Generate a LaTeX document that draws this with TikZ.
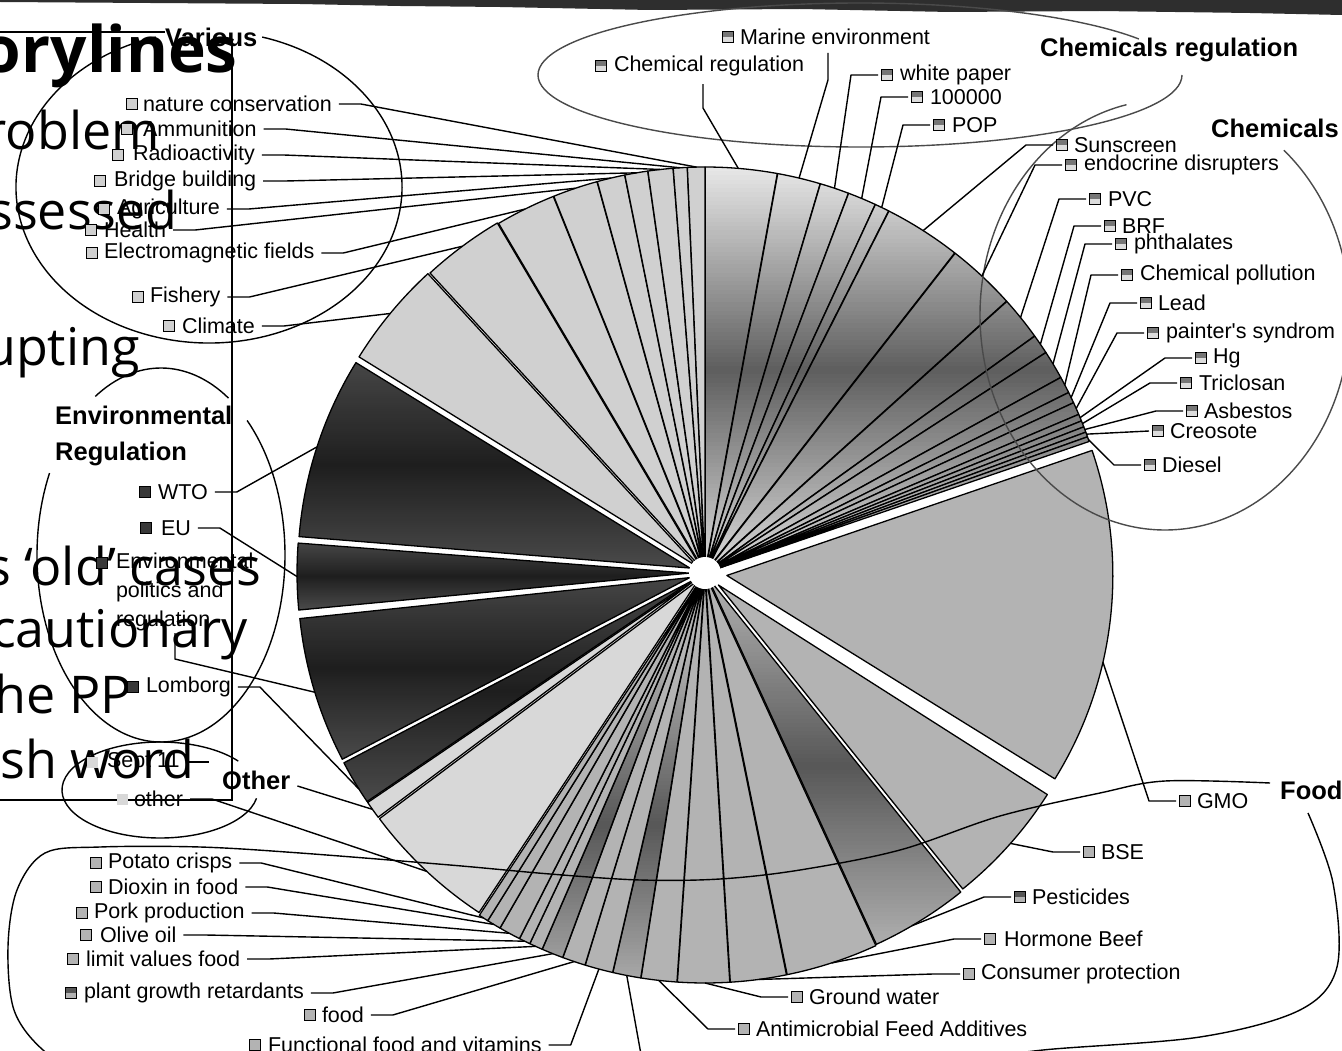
\documentclass[tikz,border=0pt]{standalone}
\usepackage{fontspec}
\setmainfont{Liberation Sans}
\newfontfamily\slidefont{Open Sans}
\usetikzlibrary{calc}
\definecolor{varcol}{HTML}{D0D0D0}
\definecolor{foodcol}{HTML}{B3B3B3}
\definecolor{othcol}{HTML}{D8D8D8}
\definecolor{chemtop}{HTML}{E8E8E8}
\definecolor{chemmid}{HTML}{5E5E5E}
\definecolor{chembot}{HTML}{DCDCDC}
\definecolor{envtop}{HTML}{464646}
\definecolor{envmid}{HTML}{1E1E1E}
\definecolor{envbot}{HTML}{4A4A4A}
\definecolor{fdmid}{HTML}{575757}
\definecolor{ellgray}{HTML}{4A4A4A}
\definecolor{scan}{HTML}{2E2E2E}
\newcommand\pslice[7]{%
  \pgfmathsetmacro\slA{#1-90}%
  \pgfmathsetmacro\slB{#2-90}%
  \pgfmathsetmacro\slM{(#1+#2)/2-90}%
  \pgfmathsetmacro\slL{#7-90}%
  \coordinate (c-#6) at ($(O)+(\slM:#4)$);
  \path[#5] (c-#6) -- ++(\slA:#3) arc[start angle=\slA,end angle=\slB,radius=#3] -- cycle;
  \coordinate (r-#6) at ($(c-#6)+(\slL:#3)$);
}
% gradient slice: colours and y-range taken from \gtop \gmid \gbot \gya \gyb
\newcommand\gslice[6]{%
  \pgfmathsetmacro\slA{#1-90}%
  \pgfmathsetmacro\slB{#2-90}%
  \pgfmathsetmacro\slM{(#1+#2)/2-90}%
  \pgfmathsetmacro\slL{#6-90}%
  \coordinate (c-#5) at ($(O)+(\slM:#4)$);
  \begin{scope}
    \clip (c-#5) -- ++(\slA:#3) arc[start angle=\slA,end angle=\slB,radius=#3] -- cycle;
    \fill[\gtop] (270,0) rectangle (1140,\gya+1);
    \fill[\gbot] (270,\gyb-1) rectangle (1140,1060);
    \pgfmathsetmacro\gH{(\gyb-\gya)/96}%
    \foreach \gi in {0,...,95}{%
      \pgfmathsetmacro\gY{\gya+\gH*\gi}%
      \pgfmathsetmacro\gP{\gi<48 ? 100*(\gi+0.5)/48 : 100*(95.5-\gi)/48}%
      \ifnum\gi<48 \colorlet{stripc}{\gmid!\gP!\gtop}\else\colorlet{stripc}{\gmid!\gP!\gbot}\fi
      \fill[stripc] (270,\gY) rectangle (1140,\gY+\gH+0.8);
    }
  \end{scope}
  \draw[sl] (c-#5) -- ++(\slA:#3) arc[start angle=\slA,end angle=\slB,radius=#3] -- cycle;
  \coordinate (r-#5) at ($(c-#5)+(\slL:#3)$);
}
\begin{document}
\begin{tikzpicture}[x=1pt,y=-1pt,
  sl/.style={draw=black,line width=1.3pt,line join=round},
  slF/.style={sl,fill=foodcol},
  slO/.style={sl,fill=othcol},
  slV/.style={sl,fill=varcol},
  lbl/.style={font=\fontsize{21.5}{24}\selectfont,inner sep=0pt,outer sep=0pt,anchor=west},
  grp/.style={font=\fontsize{25.5}{36}\selectfont\bfseries,inner sep=0pt,anchor=west,align=left},
  bx/.style={draw=black,line width=1pt,minimum size=11pt,inner sep=0pt},
  boxV/.style={bx,fill=varcol},
  boxF/.style={bx,fill=foodcol},
  boxFd/.style={bx,fill=foodcol,path picture={\fill[fdmid] (path picture bounding box.north west) rectangle (path picture bounding box.east);}},
  boxC/.style={bx,fill=chembot,path picture={\fill[chemmid!85!white] (path picture bounding box.north west) rectangle (path picture bounding box.east);}},
  boxE/.style={bx,fill=envtop!80!black},
  boxO/.style={minimum size=11pt,inner sep=0pt,fill=othcol},
  lead/.style={draw=black,line width=1.4pt,line join=round},
  ell/.style={draw=black,line width=1.4pt},
  gell/.style={draw=ellgray,line width=1.4pt},
  big/.style={font=\slidefont\fontsize{52}{52}\selectfont,inner sep=0pt,anchor=base east},
  frame/.style={draw=black,line width=2pt}]
\useasboundingbox (0,0) rectangle (1342,1051);
\fill[white] (0,0) rectangle (1342,1051);
% scanned top edge
\fill[scan] (0,0) -- (1342,0) -- (1342,15) -- (1250,13) -- (1100,11) -- (950,12) -- (800,9) -- (650,10) -- (500,7) -- (400,6) -- (300,4) -- (150,3) -- (0,2) -- cycle;
% slide remnants
\node[big,font=\slidefont\bfseries\fontsize{64}{64}\selectfont] (s1) at (238,73) {orylines};
\node[big] (s2) at (160,150) {roblem};
\node[big] (s3) at (178,230) {ssessed};
\node[big] (s4) at (140,365) {upting};
\node[big] (s5) at (262,585) {s ‘old’ cases};
\node[big] (s6) at (248,647) {ecautionary};
\node[big] (s7) at (132,713) {he PP};
\node[big] (s8) at (195,778) {ish word};
\draw[frame] (0,32) -- (165,32);
\draw[frame] (232,40) -- (232,800) -- (0,800);
% pie
\coordinate (O) at (705,573);
\def\gtop{chemtop}\def\gmid{chemmid}\def\gbot{chembot}\def\gya{167}\def\gyb{573}
\gslice{0}{10.3}{403}{3}{chemreg}{4.7}
\gslice{10.3}{16.5}{403}{3}{marine}{13.4}
\gslice{16.5}{20.7}{403}{3}{white}{18.6}
\gslice{20.7}{24.8}{403}{3}{k100}{22.7}
\gslice{24.8}{26.9}{403}{3}{pop}{25.8}
\gslice{26.9}{38}{403}{3}{sun}{32.5}
\gslice{38}{48}{403}{3}{endo}{43}
\gslice{48}{54.3}{403}{3}{pvc}{51}
\gslice{54.3}{57.1}{403}{3}{brf}{55.7}
\gslice{57.1}{61.2}{403}{3}{phth}{59}
\gslice{61.2}{63.6}{403}{3}{chpol}{62.4}
\gslice{63.6}{65.2}{403}{3}{lead}{64.4}
\gslice{65.2}{67.0}{403}{3}{paint}{66.1}
\gslice{67.0}{68.0}{403}{3}{hg}{67.5}
\gslice{68.0}{68.9}{403}{3}{tric}{68.4}
\gslice{68.9}{69.7}{403}{3}{asb}{69.3}
\gslice{69.7}{70.4}{403}{3}{creo}{70}
\gslice{70.4}{71.1}{403}{3}{dies}{70.8}
\pslice{71.1}{121.8}{386}{22}{slF}{gmo}{103}
\pslice{122.5}{141.2}{390}{18}{slF}{bse}{131.5}
\def\gtop{foodcol}\def\gmid{fdmid}\def\gbot{foodcol}\def\gya{577}\def\gyb{955}
\gslice{141.2}{155.3}{404}{5}{pest}{149.6}
\pslice{155.3}{168.5}{406}{4}{slF}{horm}{162}
\pslice{168.5}{176.5}{406}{4}{slF}{cons}{172.5}
\pslice{176.5}{183.9}{406}{4}{slF}{ground}{180}
\pslice{183.9}{189}{406}{4}{slF}{anti}{186.5}
\def\gya{650}\def\gyb{1000}
\gslice{189}{193}{406}{4}{unk}{191}
\pslice{193}{197}{406}{4}{slF}{func}{195}
\pslice{197}{200.3}{406}{4}{slF}{food}{198.6}
\gslice{200.3}{203.4}{406}{4}{plant}{201.8}
\pslice{203.4}{205.3}{406}{4}{slF}{limit}{204.4}
\pslice{205.3}{206.9}{406}{4}{slF}{olive}{206.1}
\pslice{206.9}{210}{406}{4}{slF}{pork}{208.5}
\pslice{210}{212}{406}{4}{slF}{dioxin}{211}
\pslice{212}{213.4}{406}{4}{slF}{potato}{212.7}
\pslice{213.4}{233.2}{398}{10}{slO}{other}{223}
\pslice{233.2}{235.8}{398}{10}{slO}{sept}{234.6}
\def\gtop{envtop}\def\gmid{envmid}\def\gbot{envbot}
\def\gya{581}\def\gyb{801}
\gslice{235.8}{242.4}{392}{16}{lomb}{238}
\def\gya{577}\def\gyb{759}
\gslice{242.4}{264}{392}{16}{envpol}{253}
\def\gya{543}\def\gyb{610}
\gslice{264.6}{274.4}{392}{16}{eu}{269.5}
\def\gya{362}\def\gyb{568}
\gslice{274.6}{301.6}{392}{16}{wto}{288}
\pslice{301.8}{317.4}{398}{10}{slV}{clim}{309.5}
\pslice{317.4}{329.4}{401}{6}{slV}{fish}{323.4}
\pslice{329.4}{338.1}{402}{4}{slV}{emf}{333.7}
\pslice{338.1}{344.6}{402}{4}{slV}{health}{341.4}
\pslice{344.6}{348.6}{402}{4}{slV}{agri}{346.6}
\pslice{348.6}{351.9}{402}{4}{slV}{bridge}{350.3}
\pslice{351.9}{355.5}{402}{4}{slV}{radio}{353.7}
\pslice{355.5}{357.5}{402}{4}{slV}{ammu}{356.5}
\pslice{357.5}{360}{402}{4}{slV}{nature}{358.8}
\fill[white] (O) circle[radius=16];
% group ellipses
\draw[ell] ($(209,187)+(-74:193 and 156)$) arc[start angle=-74,end angle=254,x radius=193,y radius=156];
\draw[ell] ($(161,555)+(-122:124 and 187)$) arc[start angle=-122,end angle=-57,x radius=124,y radius=187];
\draw[ell] ($(161,555)+(-46:124 and 187)$) arc[start angle=-46,end angle=206,x radius=124,y radius=187];
\draw[ell] ($(160,790)+(10:98 and 48)$) arc[start angle=10,end angle=323,x radius=98,y radius=48];
\draw[gell] ($(860,75)+(0:322 and 72)$) arc[start angle=0,end angle=330,x radius=322,y radius=72];
\draw[gell] ($(1165,315)+(-50:185 and 215)$) arc[start angle=-50,end angle=258,x radius=185,y radius=215];
\draw[ell] plot[smooth,tension=0.55] coordinates {(1270,783) (1165,781) (1100,793) (1000,816) (900,850) (800,870) (720,879) (640,880) (550,874) (450,865) (300,853) (200,847) (100,847) (45,853) (17,890) (8,947) (14,1010) (43,1050) (90,1078)};
\draw[ell] plot[smooth,tension=0.55] coordinates {(960,1062) (1043,1050) (1200,1037) (1300,1010) (1337,967) (1333,883) (1308,813)};
% Various labels
\node[boxV] (b-nature) at (132,104) {}; \node[lbl] (t-nature) at (143,104) {nature conservation};
\node[boxV] (b-ammu) at (127,129) {}; \node[lbl] (t-ammu) at (143,129) {Ammunition};
\node[boxV] (b-radio) at (118,155) {}; \node[lbl] (t-radio) at (133,155) {Radioactivity};
\node[boxV] (b-bridge) at (100,181) {}; \node[lbl] (t-bridge) at (114,181) {Bridge building};
\node[boxV] (b-agri) at (104,209) {}; \node[lbl] (t-agri) at (117,209) {Agriculture};
\node[boxV] (b-health) at (91,230) {}; \node[lbl] (t-health) at (104,230) {Health};
\node[boxV] (b-emf) at (92,253) {}; \node[lbl] (t-emf) at (104,253) {Electromagnetic fields};
\node[boxV] (b-fish) at (138,297) {}; \node[lbl] (t-fish) at (150,297) {Fishery};
\node[boxV] (b-clim) at (169,326) {}; \node[lbl] (t-clim) at (182,326) {Climate};
\foreach \n in {nature,ammu,radio,bridge,agri,health,emf,fish,clim}
  \draw[lead] ($(t-\n.east)+(7,0)$) -- ++(22,0) -- (r-\n);
% Environmental regulation labels
\node[boxE] (b-wto) at (145,492) {}; \node[lbl] (t-wto) at (158,492) {WTO};
\node[boxE] (b-eu) at (146,528) {}; \node[lbl] (t-eu) at (161,528) {EU};
\node[boxE] (b-envpol) at (102,563) {};
\node[lbl,anchor=north west,align=left,font=\fontsize{21.5}{29}\selectfont] (t-envpol) at (116,553) {Environmental\\politics and\\regulation};
\node[boxE] (b-lomb) at (133,687) {}; \node[lbl] (t-lomb) at (146,687) {Lomborg};
\foreach \n in {wto,eu,lomb}
  \draw[lead] ($(t-\n.east)+(7,0)$) -- ++(22,0) -- (r-\n);
\draw[lead] (t-envpol.south west) ++(59,2) -- ++(0,26) -- (r-envpol);
% Other labels
\node[boxO] (b-sept) at (92,762) {}; \node[lbl] (t-sept) at (107,762) {Sept 11};
\node[boxO] (b-other) at (122,799) {}; \node[lbl] (t-other) at (134,799) {other};
\draw[lead] ($(t-sept.east)+(7,0)$) -- ++(22,0);
\draw[lead] ($(t-other.east)+(7,0)$) -- ++(22,0) -- (r-other);
% Food labels, left
\node[boxF] (b-potato) at (96,863) {}; \node[lbl] (t-potato) at (108,863) {Potato crisps};
\node[boxF] (b-dioxin) at (96,887) {}; \node[lbl] (t-dioxin) at (108,887) {Dioxin in food};
\node[boxF] (b-pork) at (82,913) {}; \node[lbl] (t-pork) at (94,913) {Pork production};
\node[boxF] (b-olive) at (86,935) {}; \node[lbl] (t-olive) at (100,935) {Olive oil};
\node[boxF] (b-limit) at (73,959) {}; \node[lbl] (t-limit) at (86,959) {limit values food};
\node[boxFd] (b-plant) at (71,993) {}; \node[lbl] (t-plant) at (84,993) {plant growth retardants};
\node[boxF] (b-food) at (310,1015) {}; \node[lbl] (t-food) at (322,1015) {food};
\node[boxF] (b-func) at (255,1045) {}; \node[lbl] (t-func) at (268,1045) {Functional food and vitamins};
\foreach \n in {potato,dioxin,pork,olive,limit,plant,food,func}
  \draw[lead] ($(t-\n.east)+(7,0)$) -- ++(22,0) -- (r-\n);
\coordinate (unkend) at (642,1060);
\draw[lead] (unkend) -- (r-unk);
% Food labels, right
\node[boxF] (b-gmo) at (1185,801) {}; \node[lbl] (t-gmo) at (1197,801) {GMO};
\node[boxF] (b-bse) at (1089,852) {}; \node[lbl] (t-bse) at (1101,852) {BSE};
\node[boxFd] (b-pest) at (1020,897) {}; \node[lbl] (t-pest) at (1032,897) {Pesticides};
\node[boxF] (b-horm) at (990,939) {}; \node[lbl] (t-horm) at (1004,939) {Hormone Beef};
\node[boxF] (b-cons) at (969,974) {}; \node[lbl] (t-cons) at (981,974) {Consumer protection};
\node[boxF] (b-ground) at (797,997) {}; \node[lbl] (t-ground) at (809,997) {Ground water};
\node[boxF] (b-anti) at (744,1029) {}; \node[lbl] (t-anti) at (756,1029) {Antimicrobial Feed Additives};
\foreach \n in {gmo,bse,pest,horm,cons,ground,anti}
  \draw[lead] ($(b-\n.west)+(-3,0)$) -- ++(-27,0) -- (r-\n);
% Chemical labels
\node[boxC] (b-chemreg) at (601,66) {}; \node[lbl] (t-chemreg) at (614,66) {Chemical regulation};
\node[boxC] (b-marine) at (728,37) {}; \node[lbl] (t-marine) at (740,37) {Marine environment};
\draw[lead] (t-chemreg.south west) ++(89,8) -- ++(0,24) -- (r-chemreg);
\draw[lead] (t-marine.south west) ++(88,8) -- ++(0,27) -- (r-marine);
\node[boxC] (b-white) at (887,75) {}; \node[lbl] (t-white) at (900,75) {white paper};
\node[boxC] (b-k100) at (917,97) {}; \node[lbl] (t-k100) at (930,97) {100000};
\node[boxC] (b-pop) at (939,125) {}; \node[lbl] (t-pop) at (952,125) {POP};
\node[boxC] (b-sun) at (1062,145) {}; \node[lbl] (t-sun) at (1074,145) {Sunscreen};
\node[boxC] (b-endo) at (1071,165) {}; \node[lbl] (t-endo) at (1084,165) {endocrine disrupters};
\node[boxC] (b-pvc) at (1095,199) {}; \node[lbl] (t-pvc) at (1108,199) {PVC};
\node[boxC] (b-brf) at (1110,226) {}; \node[lbl] (t-brf) at (1122,226) {BRF};
\node[boxC] (b-phth) at (1121,244) {}; \node[lbl] (t-phth) at (1134,244) {phthalates};
\node[boxC] (b-chpol) at (1127,275) {}; \node[lbl] (t-chpol) at (1140,275) {Chemical pollution};
\node[boxC] (b-lead) at (1146,303) {}; \node[lbl] (t-lead) at (1158,303) {Lead};
\node[boxC] (b-paint) at (1153,333) {}; \node[lbl] (t-paint) at (1166,333) {painter\textquotesingle s syndrom};
\node[boxC] (b-hg) at (1201,358) {}; \node[lbl] (t-hg) at (1213,358) {Hg};
\node[boxC] (b-tric) at (1186,383) {}; \node[lbl] (t-tric) at (1199,383) {Triclosan};
\node[boxC] (b-asb) at (1192,411) {}; \node[lbl] (t-asb) at (1204,411) {Asbestos};
\node[boxC] (b-creo) at (1158,431) {}; \node[lbl] (t-creo) at (1170,431) {Creosote};
\node[boxC] (b-dies) at (1150,465) {}; \node[lbl] (t-dies) at (1162,465) {Diesel};
\foreach \n in {white,k100,pop,sun,endo,pvc,brf,phth,chpol,lead,paint,hg,tric,asb,dies}
  \draw[lead] ($(b-\n.west)+(-3,0)$) -- ++(-27,0) -- (r-\n);
\draw[lead] ($(b-creo.west)+(-3,0)$) -- (r-creo);
% group titles
\node[grp] (g-var) at (165,37) {Various};
\node[grp] (g-env) at (55,436) {Environmental\\Regulation};
\node[grp] (g-oth) at (222,780) {Other};
\node[grp] (g-food) at (1280,790) {Food};
\node[grp] (g-chem) at (1211,128) {Chemicals};
\node[grp] (g-chreg) at (1040,50) {Chemicals regulation};
\draw[lead] ($(g-oth.east)+(7,6)$) -- (r-sept);
\end{tikzpicture}
\end{document}
